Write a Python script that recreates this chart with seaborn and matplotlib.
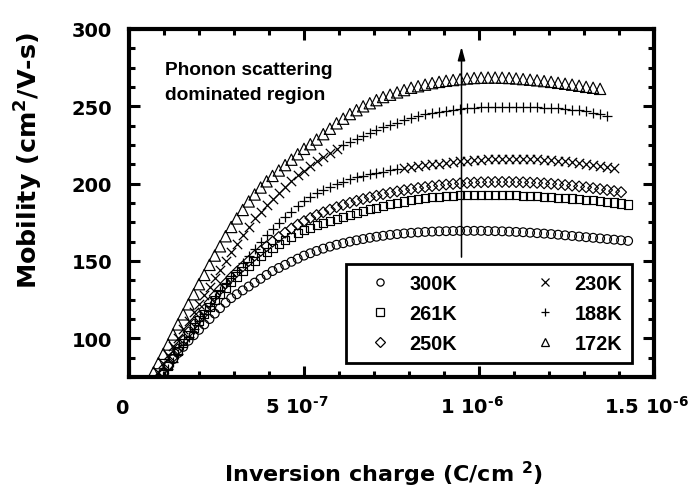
import matplotlib
matplotlib.use("Agg")
import matplotlib.pyplot as plt
from matplotlib.lines import Line2D
from matplotlib.ticker import MultipleLocator
from matplotlib.transforms import ScaledTranslation
import pandas as pd
import seaborn as sns

# Inversion charge sweep, in units of 1e-6 C/cm^2
qinv = [0.070, 0.084, 0.098, 0.112, 0.126, 0.140, 0.155, 0.170, 0.185, 0.200,
        0.215, 0.230, 0.245, 0.260, 0.276, 0.292, 0.308, 0.325, 0.342, 0.359,
        0.376, 0.393, 0.410, 0.428, 0.446, 0.464, 0.482, 0.500, 0.518, 0.536,
        0.555, 0.574, 0.593, 0.612, 0.631, 0.650, 0.669, 0.688, 0.707, 0.726,
        0.746, 0.766, 0.786, 0.806, 0.826, 0.846, 0.866, 0.886, 0.906, 0.926,
        0.946, 0.966, 0.986, 1.006, 1.026, 1.046, 1.066, 1.086, 1.106, 1.126,
        1.146, 1.166, 1.186, 1.206, 1.226, 1.246, 1.266, 1.286, 1.306, 1.326,
        1.346, 1.366, 1.386, 1.406, 1.426]

# Effective mobility (cm^2/V-s) at each temperature
mob_300K = [69, 73.5, 78, 82.5, 86.5, 90.5, 94.5, 98.5, 102, 105.5,
            109, 112.5, 116, 119.5, 123, 126, 128.5, 131, 133.5, 136,
            138.5, 141, 143.5, 145.5, 147.5, 149.5, 151.5, 153.5, 155, 156.5,
            158, 159.3, 160.5, 161.5, 162.5, 163.4, 164.2, 165, 165.7, 166.3,
            166.9, 167.4, 167.8, 168.2, 168.5, 168.8, 169, 169.2, 169.3, 169.4,
            169.5, 169.5, 169.5, 169.5, 169.4, 169.3, 169.2, 169, 168.8, 168.6,
            168.3, 168, 167.7, 167.4, 167, 166.6, 166.2, 165.8, 165.4, 165,
            164.6, 164.2, 163.8, 163.4, 163]

mob_261K = [66, 71.5, 77, 82, 87, 92, 97, 102, 107, 111.5,
            116, 120.5, 124.5, 128.5, 132.5, 136.5, 140, 143.5, 147, 150,
            153, 156, 158.5, 161, 163.5, 165.8, 168, 170, 171.6, 173.1,
            174.5, 176, 177.3, 178.6, 179.8, 181, 182.2, 183.4, 184.5, 185.6,
            186.6, 187.6, 188.5, 189.3, 190, 190.6, 191.1, 191.5, 191.9, 192.2,
            192.5, 192.6, 192.7, 192.8, 192.8, 192.8, 192.7, 192.6, 192.5, 192.3,
            192.1, 191.9, 191.6, 191.3, 191, 190.7, 190.4, 190, 189.6, 189.2,
            188.8, 188.3, 187.8, 187.2, 186.5]

mob_250K = [66, 71.5, 77, 82.5, 88, 93, 98.5, 104, 109, 114,
            118.5, 123, 127.5, 131.5, 135.5, 139.5, 143, 146.5, 150, 153.5,
            156.5, 159.5, 162.5, 165.5, 168.3, 171, 173.5, 175.8, 177.8, 179.7,
            181.5, 183.2, 184.8, 186.3, 187.6, 188.9, 190.1, 191.2, 192.2, 193.2,
            194.1, 195, 195.8, 196.5, 197.2, 197.8, 198.4, 198.9, 199.4, 199.8,
            200.2, 200.5, 200.7, 200.9, 201, 201.1, 201.1, 201.1, 201, 200.9,
            200.7, 200.5, 200.2, 199.9, 199.5, 199.1, 198.7, 198.2, 197.7, 197.1,
            196.5, 195.9, 195.2, 194.5]

mob_230K = [64, 69.5, 75, 80, 85, 90, 95.5, 101, 106, 111,
            116, 121, 126, 130.5, 135.5, 140, 144.5, 149, 153.5, 158,
            162.5, 166.5, 170.5, 174.5, 178.5, 182, 185.5, 188.5, 191.3, 193.8,
            196, 198, 199.8, 201.4, 202.8, 204, 205.1, 206.1, 207, 207.8,
            208.6, 209.3, 210, 210.6, 211.2, 211.8, 212.4, 213, 213.5, 214,
            214.4, 214.8, 215.2, 215.5, 215.8, 216, 216.1, 216.2, 216.2, 216.1,
            216, 215.8, 215.5, 215.2, 214.8, 214.4, 213.9, 213.4, 212.8, 212.2,
            211.5, 210.8, 210]

mob_188K = [73, 78.5, 84, 89.5, 95, 100.5, 106, 111.5, 117, 122.5,
            128, 133.5, 139, 144.5, 150, 155.5, 161, 166.5, 172, 177.5,
            182, 186.5, 190, 194, 198, 202, 205.5, 208.5, 211.5, 214.5,
            217.5, 220, 222.5, 224.8, 227, 229, 231, 233, 234.8, 236.5,
            238, 239.5, 241, 242.3, 243.5, 244.8, 245.8, 246.6, 247.3, 247.9,
            248.4, 248.8, 249.1, 249.3, 249.5, 249.6, 249.6, 249.6, 249.6, 249.5,
            249.4, 249.3, 249.1, 248.9, 248.6, 248.3, 247.9, 247.4, 246.8, 246,
            245, 243.8]

mob_172K = [78, 84, 90, 96, 102.5, 109, 115.5, 122, 128.5, 135,
            141, 147.5, 153.5, 159.5, 166, 172, 177.5, 183, 188.5, 193,
            197.5, 201.5, 205, 208.5, 212, 215.5, 219, 222.5, 225.5, 228.5,
            232, 235.5, 239, 242, 245, 247.5, 250, 252, 254, 256,
            257.5, 259, 260.5, 262, 263, 264, 265, 265.8, 266.5, 267,
            267.5, 268, 268.3, 268.5, 268.6, 268.6, 268.5, 268.3, 268, 267.6,
            267.2, 266.8, 266.3, 265.8, 265.2, 264.6, 264, 263.3, 262.6, 262,
            261.3]

temperatures = ["300K", "261K", "250K", "230K", "188K", "172K"]
mobility = [mob_300K, mob_261K, mob_250K, mob_230K, mob_188K, mob_172K]
glyphs = ["o", "s", "D", "x", "+", "^"]

# The 230K and 188K sweeps were recorded with swapped symbols at low charge
low_charge_glyph = {"230K": ("+", 0.78), "188K": ("x", 0.60)}

x_ticks = [0, 5e-7, 1e-6, 1.5e-6]
x_tick_labels = ["0", r"5 10$^{\text{-7}}$", r"1 10$^{\text{-6}}$", r"1.5 10$^{\text{-6}}$"]
y_ticks = [100, 150, 200, 250, 300]

rows = []
for temp, mob, glyph in zip(temperatures, mobility, glyphs):
    for q, mu in zip(qinv, mob):
        g = glyph
        if temp in low_charge_glyph and q < low_charge_glyph[temp][1]:
            g = low_charge_glyph[temp][0]
        rows.append({"temp": temp, "q": q * 1e-6, "mobility": mu, "glyph": g})
df = pd.DataFrame(rows)

sns.set_style("ticks")
plt.rcParams.update({
    "font.family": ["DejaVu Sans"],
    "font.weight": "bold",
    "text.color": "black",
    "axes.labelcolor": "black",
    "axes.edgecolor": "black",
    "xtick.color": "black",
    "ytick.color": "black",
    "mathtext.fontset": "custom",
    "mathtext.rm": "DejaVu Sans:bold",
    "mathtext.it": "DejaVu Sans:bold",
    "mathtext.bf": "DejaVu Sans:bold",
    "mathtext.default": "rm",
})

fig = plt.figure(figsize=(6.95, 4.89), dpi=100, facecolor="white")
ax = fig.add_axes([129 / 695, 1 - 378 / 489, 525 / 695, 348 / 489])

marker_size = {"o": 40, "s": 34, "D": 30, "x": 45, "+": 60, "^": 66}
for (temp, g), grp in df.groupby(["temp", "glyph"], sort=False):
    if g in ("x", "+"):
        kws = dict(color="black", linewidth=0.9)
    else:
        kws = dict(facecolor="none", edgecolor="black", linewidth=0.85)
    sns.scatterplot(data=grp, x="q", y="mobility", marker=g, s=marker_size[g],
                    ax=ax, legend=False, zorder=3, **kws)

ax.set_xlim(0, 1.5e-6)
ax.set_ylim(75, 300)
ax.set_xticks(x_ticks, x_tick_labels)
ax.set_yticks(y_ticks)
ax.xaxis.set_minor_locator(MultipleLocator(1e-7))
ax.yaxis.set_minor_locator(MultipleLocator(12.5))
ax.tick_params(which="both", direction="in", top=True, right=True,
               width=2.2, color="black", labelsize=14, labelcolor="black")
ax.tick_params(which="major", length=8)
ax.tick_params(which="minor", length=4)
ax.tick_params(axis="y", pad=12)
ax.tick_params(axis="x", pad=26)
for lab in ax.get_xticklabels():
    lab.set_verticalalignment("baseline")
    lab.set_transform(lab.get_transform() + ScaledTranslation(-0.07, 0, fig.dpi_scale_trans))
for side in ax.spines.values():
    side.set_linewidth(3)
    side.set_color("black")

ax.set_xlabel("Inversion charge (C/cm $^{2}$)", fontsize=16, fontweight="bold")
ax.set_ylabel("Mobility (cm$^{2}$/V-s)", fontsize=18.3, fontweight="bold")
ax.xaxis.set_label_coords(0.484, -0.236)
ax.yaxis.set_label_coords(-0.16, 0.624)

ax.annotate("", xy=(0.95e-6, 288.5), xytext=(0.95e-6, 152.5),
            arrowprops=dict(arrowstyle="-|>,head_length=0.8,head_width=0.22",
                            color="black", lw=1.1, shrinkA=0, shrinkB=0))
ax.text(0.103e-6, 279, "Phonon scattering\ndominated region",
        family="Liberation Sans", fontweight="bold", fontsize=13.8,
        ha="left", va="top", linespacing=1.55)

legend_ms = {"o": 5.2, "s": 5.2, "D": 5.0, "x": 5.6, "+": 6.4, "^": 6.0}
handles = [Line2D([], [], ls="none", marker=g, color="black", mfc="none",
                  mew=0.9, ms=legend_ms[g]) for g in glyphs]
leg = ax.legend(handles, temperatures, ncol=2, loc="lower right",
                bbox_to_anchor=((632 - 129) / 525, (378 - 364) / 348),
                prop=dict(family="Liberation Sans", weight="bold", size=14.3),
                frameon=True, fancybox=False, framealpha=1, edgecolor="black",
                borderpad=0.5, labelspacing=0.55, handlelength=2.4,
                handletextpad=0.3, columnspacing=3.2, borderaxespad=0)
leg.get_frame().set_linewidth(2)

fig.savefig("out.png", dpi=100, facecolor="white")
